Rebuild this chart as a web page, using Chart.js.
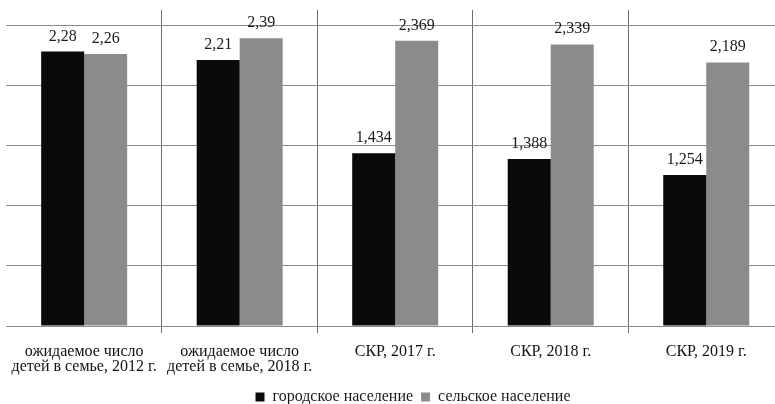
<!DOCTYPE html>
<html lang="ru">
<head>
    <meta charset="UTF-8">
    <title>Chart</title>
    <script src="https://cdn.jsdelivr.net/npm/chart.js"></script>
    <style>
        body { margin: 0; overflow: hidden; background: #fff; }
    </style>
</head>
<body>
    <div style="width: 790px; height: 415px;">
        <canvas id="grafico"></canvas>
    </div>

    <script>
        const categorias = [
          ['ожидаемое число', 'детей в семье, 2012 г.'],
          ['ожидаемое число', 'детей в семье, 2018 г.'],
          'СКР, 2017 г.',
          'СКР, 2018 г.',
          'СКР, 2019 г.'
        ]
        const gorodskoe = [2.28, 2.21, 1.434, 1.388, 1.254]
        const selskoe = [2.26, 2.39, 2.369, 2.339, 2.189]
        const ticksY = [0, 0.5, 1, 1.5, 2, 2.5]

        const fonte = "'Liberation Serif', 'Times New Roman', serif"

        // подписи значений над столбцами
        const rotulos = {
          id: 'rotulos',
          afterLayout(chart) {
            // легенда в оригинале немного правее центра
            chart.legend.left += 18
            chart.legend.right += 18
          },
          afterDatasetsDraw(chart) {
            const ctx = chart.ctx
            ctx.save()
            ctx.font = '16px ' + fonte
            ctx.fillStyle = '#1a1a1a'
            ctx.textAlign = 'center'
            ctx.textBaseline = 'alphabetic'
            chart.data.datasets.forEach((ds, i) => {
              chart.getDatasetMeta(i).data.forEach((bar, j) => {
                const txt = String(ds.data[j]).replace('.', ',')
                ctx.fillText(txt, bar.x, bar.y - 11)
              })
            })
            ctx.restore()
          }
        }

        const ctx = document.getElementById('grafico')

        new Chart(ctx, {
          type: 'bar',
          data: {
            labels: categorias,
            datasets: [{
              label: 'городское население',
              data: gorodskoe,
              backgroundColor: '#0a0a0a',
              barPercentage: 1,
              categoryPercentage: 0.553
            }, {
              label: 'сельское население',
              data: selskoe,
              backgroundColor: '#8b8b8b',
              barPercentage: 1,
              categoryPercentage: 0.553
            }]
          },
          options: {
            responsive: true,
            maintainAspectRatio: false,
            animation: false,
            layout: { padding: { top: 10, left: 6, right: 6, bottom: 0 } },
            plugins: {
              tooltip: { enabled: false },
              legend: {
                position: 'bottom',
                labels: {
                  font: { family: fonte, size: 16 },
                  color: '#1a1a1a',
                  boxWidth: 9,
                  boxHeight: 9,
                  padding: 8
                }
              }
            },
            scales: {
              x: {
                afterFit: (scale) => { scale.height = 55 },
                grid: {
                  offset: true,
                  color: (c) => c.index === 0 ? 'rgba(0,0,0,0)' : '#6e6e6e',
                  tickLength: 7
                },
                border: { display: true, color: '#8c8c8c' },
                ticks: {
                  font: { family: fonte, size: 16, lineHeight: 0.94 },
                  color: '#111',
                  padding: 11,
                  maxRotation: 0
                }
              },
              y: {
                min: 0,
                max: 2.625,
                afterBuildTicks: (scale) => {
                  scale.ticks = ticksY.map(v => ({ value: v }))
                },
                grid: { color: '#8c8c8c', drawTicks: false },
                border: { display: false },
                ticks: { display: false }
              }
            }
          },
          plugins: [rotulos]
        })
    </script>
</body>
</html>
